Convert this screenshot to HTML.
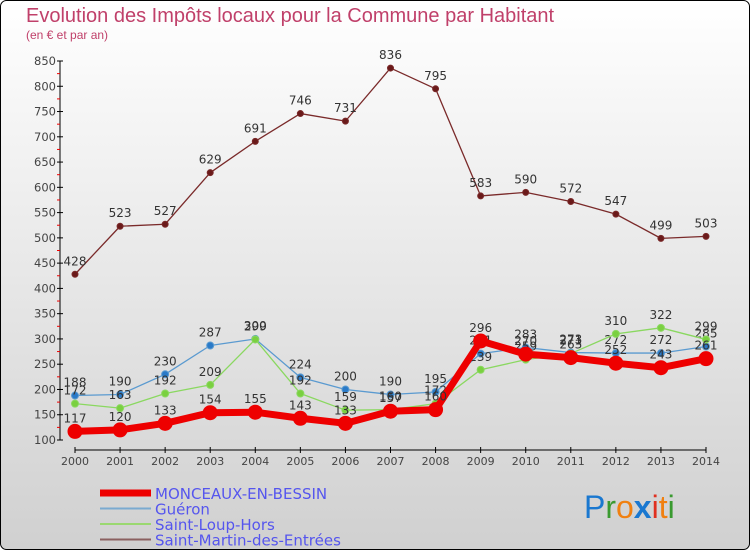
<!DOCTYPE html>
<html><head><meta charset="utf-8"><style>
body{margin:0}
#wrap{width:750px;height:550px;position:relative;overflow:hidden;font-family:"DejaVu Sans","Liberation Sans",sans-serif}
</style></head><body>
<div id="wrap">
<svg id="chart" width="750" height="550">
<defs><linearGradient id="bg" x1="0" y1="0" x2="0" y2="1"><stop offset="0" stop-color="#ffffff"/><stop offset="1" stop-color="#d0d0d0"/></linearGradient></defs>
<rect x="0.5" y="0.5" width="749" height="549" rx="6" fill="url(#bg)" stroke="#000"/>
<text x="26" y="22" font-size="20" font-family="Liberation Sans,sans-serif" fill="#c0406a">Evolution des Impôts locaux pour la Commune par Habitant</text>
<text x="26" y="39" font-size="12" font-family="Liberation Sans,sans-serif" fill="#c0406a">(en € et par an)</text>
<g id="axes"></g><g id="series"></g><g id="legend"></g>
<text x="584" y="518" font-size="32" font-family="Liberation Sans,sans-serif"><tspan fill="#1a78d0">P</tspan><tspan fill="#3a9a30">r</tspan><tspan fill="#f08010">o</tspan><tspan fill="#1a78d0" font-weight="bold">x</tspan><tspan fill="#e03020">i</tspan><tspan fill="#f08010">t</tspan><tspan fill="#3a9a30">i</tspan></text>
</svg></div>
<script>
const years=[2000,2001,2002,2003,2004,2005,2006,2007,2008,2009,2010,2011,2012,2013,2014];
const monceaux=[117,120,133,154,155,143,133,157,160,296,270,263,252,243,261];
const gueron=[188,190,230,287,300,224,200,190,195,271,283,273,272,272,285];
const saintLoup=[172,163,192,209,299,192,159,160,172,239,259,271,310,322,299];
const saintMartin=[428,523,527,629,691,746,731,836,795,583,590,572,547,499,503];
const yTicks=[100,150,200,250,300,350,400,450,500,550,600,650,700,750,800,850];
const NS="http://www.w3.org/2000/svg";
const x=i=>75+i*(706-75)/(years.length-1);
const y=v=>440-(v-100)*(440-61)/750;
function mk(t,a,p){const e=document.createElementNS(NS,t);for(const k in a)e.setAttribute(k,a[k]);p.appendChild(e);return e;}
const ax=document.getElementById('axes');
const yl=mk('line',{x1:60,y1:61,x2:60,y2:440,stroke:'#000'},ax);


const xl=mk('line',{x1:75,y1:450,x2:706,y2:450,stroke:'#000'},ax);


yTicks.forEach(v=>{
 mk('line',{x1:57,y1:y(v),x2:63,y2:y(v),stroke:'#000'},ax);
 if(v<850)mk('line',{x1:57,y1:y(v+25),x2:60,y2:y(v+25),stroke:'#e00'},ax);
 const t=mk('text',{x:56,y:y(v)+4,'font-size':11.5,fill:'#444','text-anchor':'end'},ax);t.textContent=v;
 
 
});
years.forEach((yr,i)=>{
 mk('line',{x1:x(i),y1:447,x2:x(i),y2:453,stroke:'#000'},ax);
 const t=mk('text',{x:x(i),y:465,'font-size':11,fill:'#444','text-anchor':'middle'},ax);t.textContent=yr;
 
 
});
const sg=document.getElementById('series');
function series(data,color,w,r,name,dot){
 const g=mk('g',{},sg);
 
 
 mk('polyline',{points:data.map((v,i)=>x(i)+','+y(v)).join(' '),fill:'none',stroke:color,'stroke-width':w,'stroke-linejoin':'round'},g);
 data.forEach((v,i)=>{
  const c=mk('circle',{cx:x(i),cy:y(v),r:r,fill:dot,stroke:color,'stroke-width':1},g);
  
  
  const t=mk('text',{x:x(i),y:y(v)-9,'font-size':12,fill:'#333','text-anchor':'middle'},g);t.textContent=v;
  
  
 });
}
series(saintMartin,'#7a2a2a',1.3,3,'saint-martin-series','#6a1a1a');
series(gueron,'#5a9ad0',1.3,3.5,'gueron-series','#2a7ac8');
series(saintLoup,'#8ad860',1.3,3.5,'saint-loup-series','#7ad040');
series(monceaux,'#ee0000',7,7,'monceaux-series','#ee0000');
const lg=document.getElementById('legend');
const items=[['MONCEAUX-EN-BESSIN','#ee0000',7],['Guéron','#7aaad0',2],['Saint-Loup-Hors','#9ad870',2],['Saint-Martin-des-Entrées','#8a6060',2]];
items.forEach((it,k)=>{
 const yy=493+k*15.5;
 const l=mk('line',{x1:100,y1:yy,x2:151,y2:yy,stroke:it[1],'stroke-width':it[2]},lg);
 
 
 const t=mk('text',{x:155,y:yy+6,'font-size':15,fill:'#5555ee'},lg);t.textContent=it[0];
 
 
});
</script>
</body></html>
